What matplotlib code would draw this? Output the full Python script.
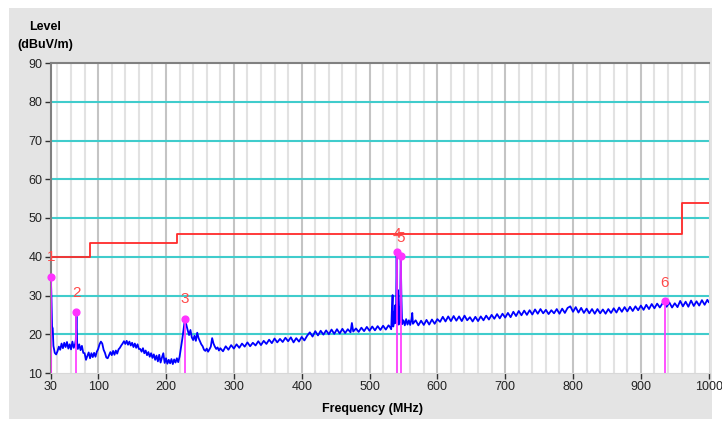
import numpy as np
import matplotlib.pyplot as plt
import matplotlib.patches as patches

plt.rcParams['font.family'] = ['Liberation Sans', 'DejaVu Sans']

freq_a = [30, 30.5, 31, 32, 33, 34, 36, 38, 40, 42, 44, 46, 48, 50, 52, 54, 56, 58, 60, 62,
          64, 66, 67, 68, 69, 70, 72, 74, 76, 78, 80, 82, 84, 86, 88, 90, 92, 94, 96, 98,
          100, 102, 104, 106, 108, 110, 112, 114, 116, 118, 120, 122, 124, 126, 128, 130,
          132, 134, 136, 138, 140, 142, 144, 146, 148, 150, 152, 154, 156, 158, 160, 162,
          164, 166, 168, 170, 172, 174, 176, 178, 180, 182, 184, 186, 188, 190, 192, 194,
          196, 198, 200, 202, 204, 206, 208, 210, 212, 214, 216, 218, 220, 222, 224, 226,
          227, 228, 229, 230]
level_a = [34.9, 33.0, 30.0, 22.0, 21.5, 17.0, 15.2, 14.8, 15.6, 16.8, 16.0, 17.6, 16.4, 17.8,
           16.7, 18.0, 16.3, 17.4, 16.1, 18.1, 16.5, 17.5, 18.5, 25.7, 17.5, 16.2, 17.4, 15.9,
           17.0, 15.2, 15.1, 13.4, 14.4, 15.3, 13.8, 15.1, 14.1, 15.2, 14.2, 15.5, 16.2, 17.4,
           18.1, 17.6, 16.0, 15.2, 14.0, 13.8, 14.6, 15.4, 14.6, 15.7, 14.7, 15.8, 15.0, 16.1,
           16.5, 17.1, 17.6, 18.2, 17.5, 18.3, 17.3, 18.1, 17.1, 17.8, 16.7, 17.6, 16.5, 17.4,
           16.2, 16.2, 15.5, 16.4, 15.1, 15.8, 14.6, 15.4, 14.2, 15.1, 13.9, 14.8, 13.4, 14.5,
           13.0, 14.7, 12.7, 14.0, 15.1, 12.6, 13.8, 12.4, 13.4, 12.5, 13.6, 12.3, 13.5, 12.7,
           13.8, 12.8, 14.2, 16.5, 18.8, 21.5, 22.8, 24.0, 23.2, 22.4]

freq_b = [232, 234, 236, 238, 240, 242, 244, 246, 248, 250, 252, 254, 256, 258, 260, 262,
          264, 266, 268, 270, 272, 274, 276, 278,
          280, 284, 288, 292, 296, 300, 304, 308, 312, 316, 320, 324, 328, 332, 336, 340,
          344, 348, 352, 356, 360, 364, 368, 372, 376, 380, 384, 388, 392, 396, 400, 404,
          408, 412, 416, 420, 424, 428, 432, 436, 440, 444, 448, 452, 456, 460, 464, 468,
          472, 474, 476, 480, 484, 488, 492, 496, 500, 504, 508, 512, 516, 520, 524, 528]
level_b = [21.0, 19.8, 21.1, 19.2, 18.5, 19.6, 18.3, 20.4, 19.0, 18.2, 17.4, 16.9, 16.0, 15.7,
           16.3, 15.5, 16.1, 16.8, 19.0, 17.6, 16.8, 16.2, 16.6, 15.8,
           16.4, 15.6, 16.9, 16.0, 17.2, 16.3, 17.4, 16.5, 17.6, 16.8, 17.9, 16.9, 17.8, 17.1,
           18.2, 17.2, 18.3, 17.5, 18.6, 17.7, 18.9, 17.9, 18.8, 18.0, 19.1, 18.2, 19.2, 17.9,
           19.0, 18.1, 19.3, 18.4, 19.6, 20.5, 19.4, 20.8, 19.7, 20.9, 19.9, 21.0, 20.0, 21.2,
           20.1, 21.3, 20.2, 21.4, 20.3, 21.3, 20.5, 22.9, 20.7, 21.5, 20.6, 21.7, 20.8, 21.9,
           20.9, 22.0, 21.0, 22.1, 21.1, 22.2, 21.2, 22.3]

freq_c = [530, 532, 533, 534, 535, 536, 537, 538, 539, 540, 541, 542, 543, 544, 545, 546,
          547, 548]
level_c = [21.9, 21.3, 26.5, 30.1, 22.0, 25.8, 22.8, 27.5, 23.0, 41.3, 24.0, 31.4, 22.5, 27.0,
           23.0, 40.3, 29.7, 22.6]

freq_d = [550, 552, 554, 556, 558, 560, 562, 563, 564, 568, 572, 576, 580, 584, 588, 592,
          596, 600, 604, 608, 612, 616, 620, 624, 628, 632, 636, 640, 644, 648, 652, 656,
          660, 664, 668, 672, 676, 680, 684, 688, 692, 696, 700, 704, 708, 712, 716, 720,
          724, 728, 732, 736, 740, 744, 748, 752, 756, 760, 764, 768, 772, 776, 780, 784,
          788, 792, 796, 800, 804, 808, 812, 816, 820, 824, 828, 832, 836, 840, 844, 848,
          852, 856, 860, 864, 868, 872, 876, 880, 884, 888, 892, 896, 900, 904, 908, 912,
          916, 920, 924, 928, 932, 935, 938, 942, 946, 950, 954, 958, 962, 966, 970, 974,
          978, 982, 986, 990, 994, 998, 1000]
level_d = [23.6, 22.3, 23.9, 22.5, 23.6, 22.4, 24.0, 25.5, 22.7, 23.6, 22.3, 23.5, 22.4, 23.7,
           22.5, 23.8, 22.7, 23.9, 23.2, 24.5, 23.3, 24.6, 23.4, 24.7, 23.5, 24.6, 23.4, 24.8,
           23.6, 24.4, 23.3, 24.5, 23.4, 24.6, 23.6, 24.8, 23.8, 25.0, 24.0, 25.2, 24.1, 25.3,
           24.3, 25.5, 24.4, 25.8, 24.7, 26.0, 24.9, 26.1, 25.0, 26.2, 25.1, 26.4, 25.3, 26.5,
           25.4, 26.3, 25.2, 26.2, 25.4, 26.5, 25.3, 26.6, 25.5, 26.8, 27.2, 25.8, 27.0, 25.6,
           26.8, 25.5, 26.6, 25.4, 26.5, 25.3, 26.5, 25.4, 26.4, 25.3, 26.5, 25.5, 26.7, 25.6,
           26.9, 25.8, 27.0, 25.9, 27.1, 26.0, 27.2, 26.2, 27.4, 26.3, 27.6, 26.5, 27.8, 26.7,
           27.9, 26.9, 28.0, 28.7, 27.1, 28.2, 26.9, 28.0, 27.0, 28.6, 27.2, 28.4, 27.1, 28.7,
           27.3, 28.5, 27.4, 28.8, 27.6, 28.9, 28.3]

# limit line
limit_freq = [30, 88, 88, 216, 216, 960, 960, 1000]
limit_level = [40, 40, 43.5, 43.5, 46, 46, 54, 54]

# peak markers
peak_ids = ['1', '2', '3', '4', '5', '6']
peak_freq = [30, 68, 228, 540, 546, 935]
peak_level = [34.9, 25.7, 24.0, 41.3, 40.3, 28.7]
label_dy = [5.0, 4.9, 5.1, 4.6, 4.5, 4.5]

xticks = [30, 100, 200, 300, 400, 500, 600, 700, 800, 900, 1000]
yticks = [10, 20, 30, 40, 50, 60, 70, 80, 90]

freq = freq_a + freq_b + freq_c + freq_d
level = level_a + level_b + level_c + level_d

fig = plt.figure(figsize=(7.22, 4.21), dpi=100, facecolor='white')
fig.patches.append(patches.Rectangle((9 / 722, 2 / 421), 703 / 722, 411 / 421,
                                     transform=fig.transFigure, facecolor='#e4e4e4',
                                     edgecolor='none', zorder=-10))
ax = fig.add_axes([50.7 / 722, 1 - 373 / 421, 658 / 722, 310 / 421])
ax.set_zorder(1)
ax.set_facecolor('white')

# grid
for f in range(40, 1000, 20):
    c = '#c4c4c4' if f % 100 == 0 else '#e2e2e2'
    ax.axvline(f, color=c, lw=1.5, zorder=1)
for y in range(20, 90, 10):
    ax.axhline(y, color='#40cccc', lw=1.5, zorder=1)

ax.plot(limit_freq, limit_level, color='#ff2a2a', lw=1.3, zorder=3)
ax.plot(freq, level, color='#0000ff', lw=1.3, zorder=4)
ax.vlines(peak_freq, 10, peak_level, color='#ff33ff', lw=1.2, zorder=5)
ax.scatter(peak_freq, peak_level, s=24, color='#ff33ff', zorder=6, clip_on=False)
for pid, f, v, d in zip(peak_ids, peak_freq, peak_level, label_dy):
    ax.text(f, v + d, pid, color='#ff4a4a', fontsize=11, ha='center', va='center', zorder=7)

ax.set_xlim(30, 1000)
ax.set_ylim(10, 90)
ax.set_xticks(xticks)
ax.set_yticks(yticks)
ax.tick_params(length=4, width=1, color='#303030', labelsize=9, labelcolor='#222222', pad=2)
for s in ['left', 'top']:
    ax.spines[s].set_color('#808080')
    ax.spines[s].set_linewidth(1.5)
for s in ['right', 'bottom']:
    ax.spines[s].set_color('#d8d8d8')

fig.text(45 / 722, 1 - 27 / 421, 'Level', fontsize=9, fontweight='bold', ha='center', va='center')
fig.text(45 / 722, 1 - 45 / 421, '(dBuV/m)', fontsize=9, fontweight='bold', ha='center', va='center')
fig.text(372 / 722, 1 - 409 / 421, 'Frequency (MHz)', fontsize=9, fontweight='bold',
         ha='center', va='center')

plt.savefig('out.png', dpi=100, facecolor='white')
